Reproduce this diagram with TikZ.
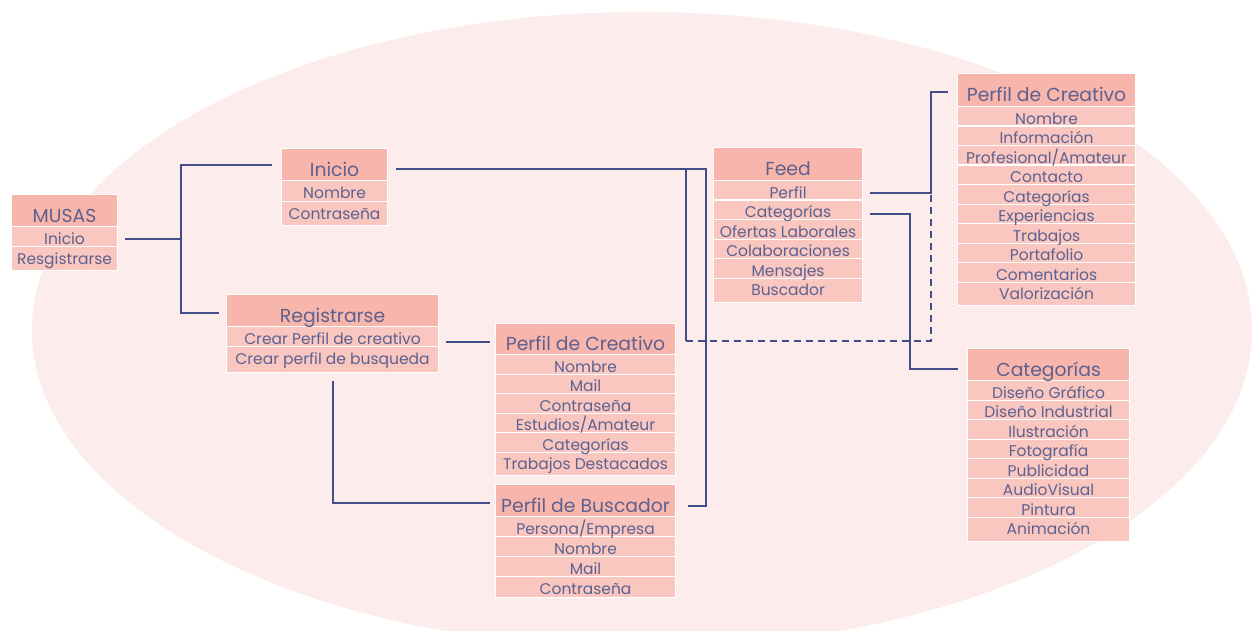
\documentclass[tikz,border=0pt]{standalone}
\usepackage{fontspec}
\setmainfont{Poppins}
\definecolor{bgell}{RGB}{252,236,235}
\definecolor{hdrfill}{RGB}{248,181,171}
\definecolor{rowfill}{RGB}{249,199,191}
\definecolor{txt}{RGB}{92,97,145}
\definecolor{lnc}{RGB}{66,77,138}
\tikzset{
  cell/.style={draw=white, line width=1.1pt, inner sep=0pt, text=txt, anchor=north west},
  hdr/.style={cell, fill=hdrfill, font=\fontsize{18.8}{21}\selectfont, text height=23.2pt, text depth=0pt},
  row/.style={cell, fill=rowfill, font=\fontsize{15.5}{17}\selectfont, text height=15.8pt, text depth=0pt},
  lastrow/.style={row, text depth=#1},
  conn/.style={draw=lnc, line width=2pt},
}
\begin{document}
\begin{tikzpicture}[x=1pt,y=-1pt]
\useasboundingbox (0,0) rectangle (1252,631);
\fill[white] (0,0) rectangle (1252,631);
\begin{scope}
\clip (0,0) rectangle (1252,631);
\fill[bgell] (642,330) ellipse [x radius=610, y radius=318];
\end{scope}

% rows are drawn bottom-up so that descenders stay visible

% MUSAS
\node[lastrow=4pt, minimum width=106, minimum height=24] (musas2) at (11,246) {Resgistrarse};
\node[row, minimum width=106, minimum height=20] (musas1) at (11,226) {Inicio};
\node[hdr, minimum width=106, minimum height=32] (musasH) at (11,194) {MUSAS};

% Inicio
\node[lastrow=3pt, minimum width=106, minimum height=24] (ini2) at (281,201) {Contraseña};
\node[row, minimum width=106, minimum height=21] (ini1) at (281,180) {Nombre};
\node[hdr, minimum width=106, minimum height=32] (iniH) at (281,148) {Inicio};

% Registrarse
\node[lastrow=6pt, minimum width=212, minimum height=26] (reg2) at (226,346) {Crear perfil de busqueda};
\node[row, minimum width=212, minimum height=20] (reg1) at (226,326) {Crear Perfil de creativo};
\node[hdr, minimum width=212, minimum height=32] (regH) at (226,294) {Registrarse};

% Feed
\node[lastrow=5pt, minimum width=149, minimum height=24.5] (feed6) at (713,277.5) {Buscador};
\node[row, minimum width=149, minimum height=19.5] (feed5) at (713,258) {Mensajes};
\node[row, minimum width=149, minimum height=19.5] (feed4) at (713,238.5) {Colaboraciones};
\node[row, minimum width=149, minimum height=19.5] (feed3) at (713,219) {Ofertas Laborales};
\node[row, minimum width=149, minimum height=19.5] (feed2) at (713,199.5) {Categorías};
\node[row, minimum width=149, minimum height=19.5] (feed1) at (713,180) {Perfil};
\node[hdr, minimum width=149, minimum height=33] (feedH) at (713,147) {Feed};

% Perfil de Creativo (middle)
\node[lastrow=4pt, minimum width=180, minimum height=23.5] (pcm6) at (495,451.5) {Trabajos Destacados};
\node[row, minimum width=180, minimum height=19.5] (pcm5) at (495,432) {Categorías};
\node[row, minimum width=180, minimum height=19.5] (pcm4) at (495,412.5) {Estudios/Amateur};
\node[row, minimum width=180, minimum height=19.5] (pcm3) at (495,393) {Contraseña};
\node[row, minimum width=180, minimum height=19.5] (pcm2) at (495,373.5) {Mail};
\node[row, minimum width=180, minimum height=19.5] (pcm1) at (495,354) {Nombre};
\node[hdr, minimum width=180, minimum height=31] (pcmH) at (495,323) {Perfil de Creativo};

% Perfil de Buscador
\node[lastrow=1pt, minimum width=180, minimum height=21] (busc4) at (495,576) {Contraseña};
\node[row, minimum width=180, minimum height=20] (busc3) at (495,556) {Mail};
\node[row, minimum width=180, minimum height=20] (busc2) at (495,536) {Nombre};
\node[row, minimum width=180, minimum height=20] (busc1) at (495,516) {Persona/Empresa};
\node[hdr, minimum width=180, minimum height=32] (buscH) at (495,484) {Perfil de Buscador};

% Perfil de Creativo (right)
\node[lastrow=4pt, minimum width=178, minimum height=23.5] (pcr10) at (957,281.5) {Valorización};
\node[row, minimum width=178, minimum height=19.5] (pcr9) at (957,262) {Comentarios};
\node[row, minimum width=178, minimum height=19.5] (pcr8) at (957,242.5) {Portafolio};
\node[row, minimum width=178, minimum height=19.5] (pcr7) at (957,223) {Trabajos};
\node[row, minimum width=178, minimum height=19.5] (pcr6) at (957,203.5) {Experiencias};
\node[row, minimum width=178, minimum height=19.5] (pcr5) at (957,184) {Categorías};
\node[row, minimum width=178, minimum height=19.5] (pcr4) at (957,164.5) {Contacto};
\node[row, minimum width=178, minimum height=19.5] (pcr3) at (957,145) {Profesional/Amateur};
\node[row, minimum width=178, minimum height=19.5] (pcr2) at (957,125.5) {Información};
\node[row, minimum width=178, minimum height=19.5] (pcr1) at (957,106) {Nombre};
\node[hdr, minimum width=178, minimum height=33] (pcrH) at (957,73) {Perfil de Creativo};

% Categorias (right)
\node[lastrow=5pt, minimum width=162, minimum height=24.5] (cat8) at (967,516.5) {Animación};
\node[row, minimum width=162, minimum height=19.5] (cat7) at (967,497) {Pintura};
\node[row, minimum width=162, minimum height=19.5] (cat6) at (967,477.5) {AudioVisual};
\node[row, minimum width=162, minimum height=19.5] (cat5) at (967,458) {Publicidad};
\node[row, minimum width=162, minimum height=19.5] (cat4) at (967,438.5) {Fotografía};
\node[row, minimum width=162, minimum height=19.5] (cat3) at (967,419) {Ilustración};
\node[row, minimum width=162, minimum height=19.5] (cat2) at (967,399.5) {Diseño Industrial};
\node[row, minimum width=162, minimum height=19.5] (cat1) at (967,380) {Diseño Gráfico};
\node[hdr, minimum width=162, minimum height=32] (catH) at (967,348) {Categorías};

% connectors
\coordinate (ml) at ([xshift=7pt,yshift=-2pt]musas1.east);
\coordinate (bx) at (181,238);
\draw[conn] (ml) -- (ml -| bx);
\draw[conn] ([xshift=-9pt]iniH.west) -| (bx) |- ([xshift=-7pt,yshift=-2pt]regH.west);

\draw[conn] ([xshift=8pt,yshift=-4pt]iniH.east) -| ([xshift=30pt,yshift=-5pt]buscH.east) -- ([xshift=12pt,yshift=-5pt]buscH.east);
\coordinate (v1) at (686,168);
\coordinate (v2) at (686,341);
\coordinate (v3) at (931,341);
\coordinate (pl) at ([xshift=7pt,yshift=-3pt]feed1.east);
\draw[conn] (v1) -- (v2);
\draw[conn, dash pattern=on 7pt off 5pt] (v2) -- (v3) -- (v3 |- pl);

\draw[conn] (pl) -| ([xshift=-26pt,yshift=-1.5pt]pcrH.west) -- ([xshift=-9pt,yshift=-1.5pt]pcrH.west);
\draw[conn] ([xshift=7pt,yshift=-4pt]feed2.east) -| ([xshift=-57pt,yshift=-4pt]catH.west) -- ([xshift=-9pt,yshift=-4pt]catH.west);

\draw[conn] ([xshift=7pt,yshift=-5pt]reg1.east) -- ([xshift=-5pt,yshift=-2.5pt]pcmH.west);
\draw[conn] ([yshift=-8pt]reg2.south) |- ([xshift=-5pt,yshift=-2pt]buscH.west);
\end{tikzpicture}
\end{document}
